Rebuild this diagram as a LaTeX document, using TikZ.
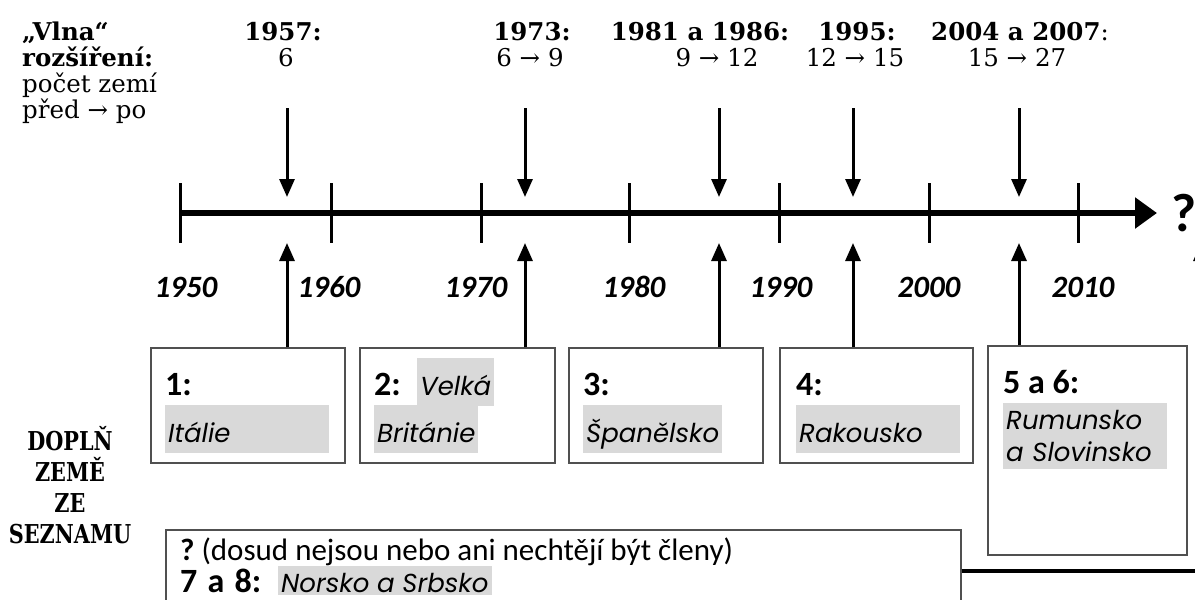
\documentclass[tikz,border=0pt]{standalone}
\usepackage{fontspec}
\setmainfont{DejaVu Serif}
\newfontfamily\serifcond{DejaVu Serif}[FakeStretch=0.8]
\newfontfamily\calf{Carlito}
\newfontfamily\cgf{Poppins}
\usetikzlibrary{arrows.meta}
\definecolor{hlgray}{HTML}{D9D9D9}
\definecolor{boxgray}{HTML}{505050}
\tikzset{
  axisline/.style={line width=6pt,-{Triangle[length=22pt,width=30pt]}},
  tickline/.style={line width=3pt},
  arr/.style={line width=3pt,-{Triangle[length=18pt,width=15pt]}},
  boxn/.style={draw=boxgray,line width=1.4pt,rectangle,inner sep=0pt},
  topl/.style={font=\fontsize{24.5}{27}\selectfont,anchor=base west,inner sep=0pt},
  yr/.style={font=\bfseries\fontsize{24.5}{27}\selectfont,anchor=base,inner sep=0pt},
  cnt/.style={font=\fontsize{24.5}{27}\selectfont,anchor=base,inner sep=0pt},
  year/.style={font=\calf\bfseries\itshape\fontsize{31}{34}\selectfont,anchor=base,inner sep=0pt},
  lab/.style={font=\calf\bfseries\fontsize{34}{38}\selectfont,anchor=base west,inner sep=0pt},
  hl/.style={fill=hlgray,font=\cgf\itshape\fontsize{26}{32}\selectfont,anchor=base west,
             inner xsep=3pt,inner ysep=0pt,text height=37pt,text depth=11pt},
  hlwide/.style={hl,text width=158pt,align=left},
  dop/.style={font=\serifcond\bfseries\fontsize{26}{31}\selectfont,anchor=base,align=center,inner sep=0pt},
}
\begin{document}
\begin{tikzpicture}[x=1pt,y=-1pt]
\useasboundingbox (0,0) rectangle (1195,600);
\clip (0,0) rectangle (1195,600);

% top-left legend
\node[topl] (t1) at (22,40) {\bfseries „Vlna“};
\node[topl] (t2) at (22,66) {\bfseries rozšíření:};
\node[topl] (t3) at (22,92) {počet zemí};
\node[topl] (t4) at (22,118) {před → po};

% enlargement waves
\node[yr] (y1) at (283,40) {1957:};
\node[cnt] (c1) at (286,66) {6};
\node[yr] (y2) at (532,40) {1973:};
\node[cnt] (c2) at (530,66) {6 → 9};
\node[yr] (y3) at (700,40) {1981 a 1986:};
\node[cnt] (c3) at (717,66) {9 → 12};
\node[yr] (y4) at (857,40) {1995:};
\node[cnt] (c4) at (855,66) {12 → 15};
\node[yr] (y5) at (1020,40) {2004 a 2007\mdseries:};
\node[cnt] (c5) at (1017,66) {15 → 27};

% axis
\coordinate (a0) at (180,213);
\coordinate (a1) at (1157,213);
\draw[axisline] (a0) -- (a1);
\foreach \x in {180,331,481,629,779,929,1078}{
  \draw[tickline] (\x,183) -- (\x,243);
}
\node[font=\calf\bfseries\fontsize{54}{60}\selectfont,anchor=base,inner sep=0pt] (q) at (1184,231) {?};

% year labels
\node[year] (l1950) at (186,297) {1950};
\node[year] (l1960) at (329,297) {1960};
\node[year] (l1970) at (476,297) {1970};
\node[year] (l1980) at (634,297) {1980};
\node[year] (l1990) at (781,297) {1990};
\node[year] (l2000) at (929,297) {2000};
\node[year] (l2010) at (1083,297) {2010};

% down arrows
\foreach \i/\x in {1/287,2/525,3/719,4/853,5/1019}{
  \coordinate (d\i) at (\x,108);
  \coordinate (e\i) at (\x,197);
  \coordinate (u\i) at (\x,243);
  \draw[arr] (d\i) -- (e\i);
}

% boxes
\node[boxn,minimum width=194pt,minimum height=115pt] (b1) at (248,405.5) {};
\node[boxn,minimum width=195pt,minimum height=115pt] (b2) at (457.5,405.5) {};
\node[boxn,minimum width=194pt,minimum height=115pt] (b3) at (666,405.5) {};
\node[boxn,minimum width=193pt,minimum height=115pt] (b4) at (876.5,405.5) {};
\node[boxn,minimum width=199pt,minimum height=209pt] (b5) at (1087.5,450.5) {};
\node[boxn,minimum width=795pt,minimum height=110pt] (b7) at (563.5,585) {};

% up arrows
\foreach \i in {1,2,3,4,5}{
  \draw[arr] (b\i.north -| u\i) -- (u\i);
}

% right connector
\coordinate (r1) at (1201,571);
\coordinate (r2) at (1201,243);
\draw[line width=4pt] (b7.east |- r1) -- (r1);
\draw[arr] (r1) -- (r2);

% box contents
\node[lab] (n1) at (165,395) {1:};
\node[hlwide] (h1) at (165,442) {Itálie};

\node[lab] (n2) at (374,395) {2:};
\node[hl] (h2a) at (417,395) {Velká};
\node[hl] (h2b) at (374,442) {Británie};

\node[lab] (n3) at (583,395) {3:};
\node[hl] (h3) at (583,442) {Španělsko};

\node[lab] (n4) at (796,395) {4:};
\node[hlwide] (h4) at (796,442) {Rakousko};

\node[lab] (n5) at (1003,393) {5 a 6:};
\node[fill=hlgray,font=\cgf\itshape\fontsize{26}{32}\selectfont,anchor=north west,
      inner xsep=3pt,inner ysep=7pt,text width=158pt,align=left] (h5) at (1003,403) {Rumunsko\\a Slovinsko};

\node[font=\calf\fontsize{31}{34}\selectfont,anchor=base west,inner sep=0pt] (n7a) at (180,560) {\bfseries ?\mdseries\ (dosud nejsou nebo ani nechtějí být členy)};
\node[lab] (n7) at (180,592) {7\hspace{0.3em}a\hspace{0.3em}8:};
\node[hl,text height=26pt,text depth=3pt] (h7) at (278,592) {Norsko a Srbsko};

% left label
\node[dop] (dp) at (70,543) {DOPLŇ\\ZEMĚ\\ZE\\SEZNAMU};
\end{tikzpicture}
\end{document}
